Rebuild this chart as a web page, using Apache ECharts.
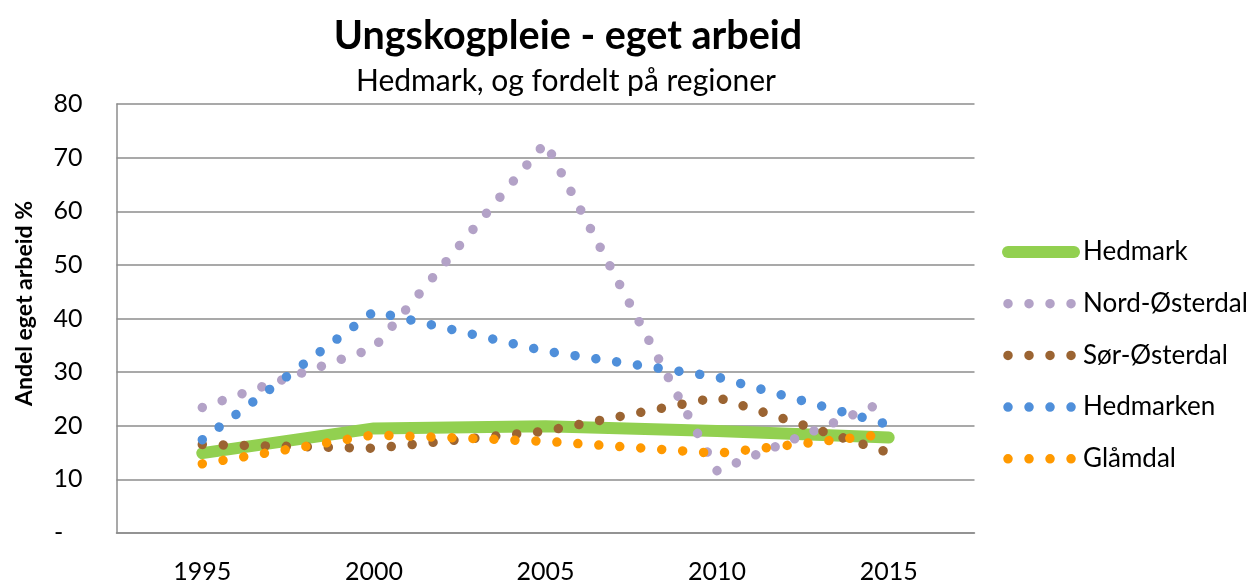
<!DOCTYPE html>
<html>
<head>
<meta charset="utf-8">
<script src="https://cdn.jsdelivr.net/npm/echarts@6/dist/echarts.min.js"></script>
<style>
  html, body { margin: 0; padding: 0; background: #fff; }
  #chart { width: 1255px; height: 586px; }
</style>
</head>
<body>
<div id="chart"></div>
<script>
// år (5-årsperioder)
let years = [1995, 2000, 2005, 2010, 2015]
// andel eget arbeid %
let hedmark = [14.9, 19.5, 19.9, 19.0, 17.8]
let nordOsterdal = [23.4, 34.5, 72.8, 11.6, 24.8]
let sorOsterdal = [16.5, 15.8, 19.0, 25.3, 15.0]
let hedmarken = [17.4, 41.3, 33.9, 29.1, 20.2]
let glamdal = [12.9, 18.3, 17.1, 14.85, 18.5]

let seriesNames = ['Hedmark', 'Nord-Østerdal', 'Sør-Østerdal', 'Hedmarken', 'Glåmdal']
let seriesValues = [hedmark, nordOsterdal, sorOsterdal, hedmarken, glamdal]
let colors = ['#92D050', '#B3A2C7', '#9B6432', '#4F8FDA', '#FF9900']

let font = 'Lato'
let chart = echarts.init(document.getElementById('chart'))

let series = seriesNames.map((name, i) => {
    let solid = i === 0
    return {
        name: name,
        type: 'line',
        symbol: 'none',
        data: years.map((y, k) => [y, seriesValues[i][k]]),
        lineStyle: {
            color: colors[i],
            width: solid ? 12 : 9.5,
            type: solid ? 'solid' : [0.01, 21], // runde prikker
            cap: 'round',
            join: 'round'
        },
        itemStyle: { color: colors[i] },
        emphasis: { disabled: true }
    }
})

let option = {
    backgroundColor: '#fff',
    animation: false,
    color: colors,
    textStyle: { fontFamily: font },
    title: [
        {
            text: 'Ungskogpleie - eget arbeid',
            left: 563,
            top: 11,
            textAlign: 'center',
            textStyle: { fontFamily: font, fontSize: 39.5, fontWeight: 'bold', color: '#000' }
        },
        {
            text: 'Hedmark, og fordelt på regioner',
            left: 561,
            top: 61,
            textAlign: 'center',
            textStyle: { fontFamily: font, fontSize: 30, fontWeight: 'normal', color: '#000' }
        }
    ],
    legend: {
        orient: 'vertical',
        left: 997,
        top: 232,
        itemWidth: 66,
        itemHeight: 12,
        itemGap: 21.7,
        selectedMode: false,
        itemStyle: { opacity: 0 },
        textStyle: { fontFamily: font, fontSize: 26, color: '#000', lineHeight: 30, padding: [0, 0, 0, 4] },
        data: seriesNames.map((name, i) => ({
            name: name,
            lineStyle: { width: i === 0 ? 12 : 9.5 }
        }))
    },
    grid: {
        left: 116.5,
        right: 280.5,
        top: 104,
        bottom: 53,
        containLabel: false
    },
    xAxis: {
        type: 'value',
        min: 1992.5,
        max: 2017.5,
        interval: 2.5,
        axisLine: { show: true, lineStyle: { color: '#8c8c8c', width: 1.5 } },
        axisTick: { show: false },
        splitLine: { show: false },
        axisLabel: {
            margin: 26,
            fontFamily: font,
            fontSize: 25,
            color: '#000',
            formatter: v => (v % 5 === 0 ? String(v) : '')
        }
    },
    yAxis: {
        type: 'value',
        min: 0,
        max: 80,
        interval: 10,
        name: 'Andel eget arbeid %',
        nameLocation: 'middle',
        nameGap: 80,
        nameTextStyle: { fontFamily: font, fontSize: 23, fontWeight: 'bold', color: '#000', padding: [0, 0, 0, 30] },
        axisLine: { show: true, lineStyle: { color: '#8c8c8c', width: 1.5 } },
        axisTick: { show: false },
        splitLine: { show: true, lineStyle: { color: '#8c8c8c', width: 1.5 } },
        axisLabel: {
            margin: 34,
            fontFamily: font,
            fontSize: 25,
            color: '#000',
            formatter: v => (v === 0 ? '-   ' : String(v))
        }
    },
    series: series
}

chart.setOption(option)
window.addEventListener('resize', function () {
    chart.resize()
})
</script>
</body>
</html>
